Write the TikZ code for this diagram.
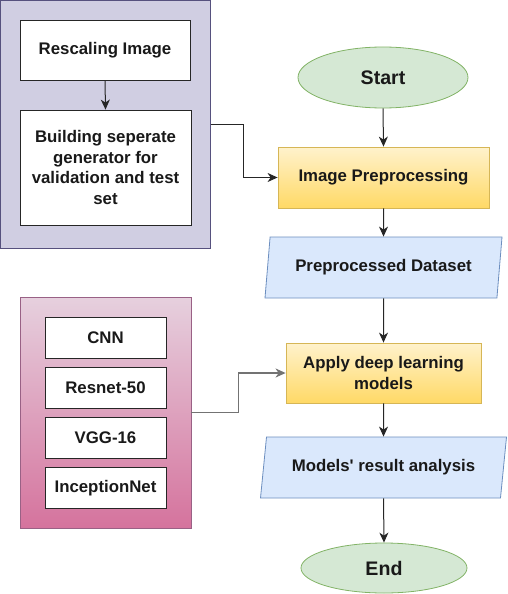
\documentclass[tikz,border=0pt]{standalone}
\usepackage{fontspec}
\setmainfont{Liberation Sans}
\usetikzlibrary{shapes.geometric,arrows.meta,calc}
\definecolor{lavfill}{HTML}{D0CEE2}
\definecolor{lavdraw}{HTML}{56517E}
\definecolor{pinktop}{HTML}{E6D0DE}
\definecolor{pinkbot}{HTML}{D5739D}
\definecolor{pinkdraw}{HTML}{996185}
\definecolor{yeltop}{HTML}{FFF2CC}
\definecolor{yelbot}{HTML}{FFD966}
\definecolor{yeldraw}{HTML}{D6B656}
\definecolor{bluefill}{HTML}{DAE8FC}
\definecolor{bluedraw}{HTML}{6C8EBF}
\definecolor{grnfill}{HTML}{D5E8D4}
\definecolor{grndraw}{HTML}{82B366}
\tikzset{
  txt/.style={font=\bfseries\fontsize{16.8}{20.5}\selectfont, align=center, inner sep=0pt, text=black!90},
  whitebox/.style={txt, draw=black!85, fill=white, line width=0.8pt, rectangle},
  yelbox/.style={txt, draw=yeldraw, top color=yeltop, bottom color=yelbot, line width=0.8pt, rectangle},
  iobox/.style={txt, trapezium, trapezium stretches body, draw=bluedraw, fill=bluefill, line width=0.8pt},
  term/.style={txt, ellipse, draw=grndraw, fill=grnfill, line width=0.8pt, font=\bfseries\fontsize{19.6}{22}\selectfont},
  conn/.style={draw=black!85, line width=1pt, -{Stealth[length=10pt,width=9pt,inset=3pt]}},
  gconn/.style={conn, draw=black!55, line width=1.3pt}
}
\begin{document}
\begin{tikzpicture}[x=1pt,y=-1pt]
\useasboundingbox (0,0) rectangle (508,594);
% left top container
\node[rectangle, draw=lavdraw, fill=lavfill, line width=0.9pt, minimum width=210pt, minimum height=248pt] (lav) at (105.5,124.5) {};
\node[whitebox, minimum width=170pt, minimum height=60pt] (resc) at (105,50) {Rescaling Image};
\node[whitebox, minimum width=171pt, minimum height=115pt] (build) at (105.5,167.5) {Building seperate\\generator for\\validation and test\\set};
% left bottom container
\node[rectangle, draw=pinkdraw, top color=pinktop, bottom color=pinkbot, line width=0.9pt, minimum width=171pt, minimum height=231pt] (pink) at (105.5,412.5) {};
\node[whitebox, minimum width=121pt, minimum height=41pt] (cnn) at (105.5,337.5) {CNN};
\node[whitebox, minimum width=121pt, minimum height=41pt] (resnet) at (105.5,388) {Resnet-50};
\node[whitebox, minimum width=121pt, minimum height=41pt] (vgg) at (105.5,438) {VGG-16};
\node[whitebox, minimum width=121pt, minimum height=41pt] (incep) at (105.5,488) {InceptionNet};
% main flow
\node[term, minimum width=170pt, minimum height=61pt] (start) at (383,77.5) {Start};
\node[yelbox, minimum width=211pt, minimum height=61pt] (prep) at (383.5,177.5) {Image Preprocessing};
\node[iobox, trapezium left angle=72, trapezium right angle=108, minimum width=237pt, minimum height=61pt] (ds) at (383.5,267.5) {Preprocessed Dataset};
\node[yelbox, minimum width=195pt, minimum height=60pt] (apply) at (383.5,373) {Apply deep learning\\models};
\node[iobox, trapezium left angle=69, trapezium right angle=111, minimum width=246pt, minimum height=61pt] (res) at (383.5,467.5) {Models\textquotesingle\ result analysis};
\node[term, minimum width=166pt, minimum height=50pt] (end) at (384,568) {End};
% connectors
\draw[conn] (resc.south) -- (build.north);
\draw[conn] (start.south) -- (prep.north);
\draw[conn] (prep.south) -- (ds.north);
\draw[conn] (ds.south) -- (apply.north);
\draw[conn] (apply.south) -- (res.north);
\draw[conn] (res.south) -- (end.north);
\draw[conn] (lav.east) -- ++(33,0) |- (prep.west);
\draw[gconn] (pink.east) -- ++(47,0) |- (apply.west);
\end{tikzpicture}
\end{document}
